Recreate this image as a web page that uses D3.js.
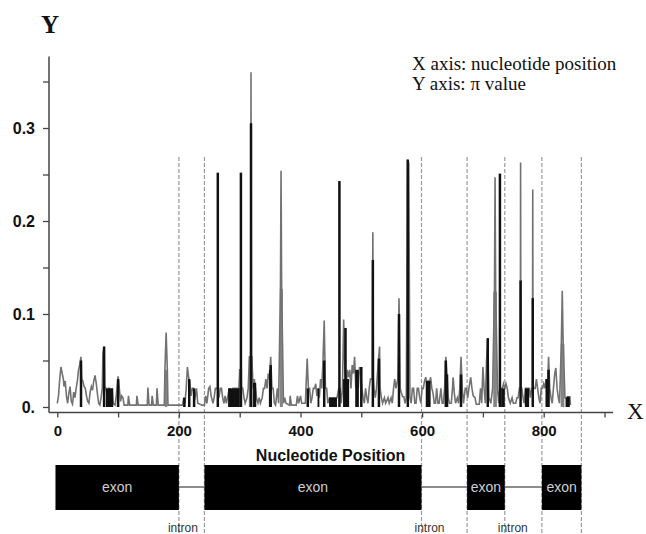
<!DOCTYPE html>
<html><head><meta charset="utf-8">
<script src="https://cdn.jsdelivr.net/npm/d3@7/dist/d3.min.js"></script>
<style>body{margin:0;background:#fff}svg{display:block}</style>
</head><body>
<svg id="c" width="646" height="534"></svg>
<script>
// nucleotide diversity (pi) profile along the gene: [position, pi]
const piProfile = [
[0,0.004],[2,0.012],[4,0.03],[6,0.043],[8,0.036],[10,0.03],[11,0.022],[13,0.028],[15,0.012],[17,0.004],[19,0.015],[21,0.022],[23,0.006],[25,0.003],[27,0.016],[29,0.01],[31,0.02],[33,0.028],[35,0.04],[37,0.046],[39,0.054],[40,0.03],[42,0.028],[44,0.022],[46,0.02],[48,0.012],[50,0.006],[52,0.004],[54,0.016],[56,0.022],[58,0.018],[60,0.028],[62,0.034],[64,0.026],[66,0.014],[68,0.004],[70,0.002],[72,0.01],[74,0.02],[75,0.058],[77,0.065],[78,0.022],[80,0.02],[82,0.012],[84,0.02],[86,0.02],[88,0.012],[90,0.02],[92,0.004],[95,0.002],[97,0.012],[99,0.026],[100,0.033],[102,0.02],[104,0.006],[106,0.012],[108,0.01],[110,0.002],[116,0.002],[117,0.012],[119,0.002],[130,0.002],[131,0.012],[133,0.002],[148,0.002],[149,0.021],[151,0.002],[155,0.002],[156,0.012],[158,0.002],[163,0.002],[164,0.02],[166,0.002],[176,0.002],[177,0.04],[179,0.08],[181,0.04],[182,0.002],
[206,0.002],[208,0.01],[210,0.004],[212,0.02],[214,0.043],[216,0.032],[218,0.026],[220,0.012],[222,0.02],[224,0.02],[226,0.008],[229,0.02],[231,0.004],[238,0.002],[242,0.002],[244,0.012],[246,0.004],[249,0.02],[251,0.022],[253,0.012],[256,0.004],[258,0.01],[260,0.02],[262,0.02],[264,0.02],[266,0.01],[268,0.02],[270,0.02],[272,0.01],[274,0.004],[276,0.012],[278,0.004],[280,0.01],[283,0.02],[285,0.008],[287,0.004],[289,0.02],[296,0.02],[298,0.01],[300,0.04],[302,0.04],[303,0.02],[305,0.02],[307,0.01],[309,0.004],[312,0.01],[314,0.02],[316,0.054],[318,0.054],[318.6,0.36],[319.4,0.054],[320,0.054],[322,0.02],[324,0.03],[326,0.02],[328,0.008],[330,0.004],[332,0.01],[334,0.004],[337,0.01],[339,0.02],[341,0.02],[343,0.03],[345,0.02],[347,0.036],[349,0.03],[351,0.054],[353,0.02],[355,0.02],[357,0.004],[359,0.002],[362,0.02],[364,0.004],[367,0.127],[368,0.254],[369,0.127],[372,0.004],[374,0.01],[376,0.004],[382,0.002],[383,0.012],[385,0.002],[393,0.002],[395,0.012],[397,0.004],[400,0.012],[402,0.004],
[408,0.004],[409,0.02],[411,0.052],[413,0.02],[415,0.02],[417,0.004],[419,0.01],[421,0.02],[423,0.02],[425,0.025],[427,0.012],[429,0.02],[431,0.01],[433,0.03],[435,0.02],[437,0.05],[439,0.093],[441,0.02],[443,0.02],[445,0.004],[448,0.01],[460,0.01],[463,0.02],[465,0.02],[467,0.004],[469,0.02],[471,0.094],[473,0.04],[475,0.02],[477,0.04],[479,0.032],[481,0.04],[483,0.02],[485,0.045],[487,0.036],[489,0.054],[491,0.02],[493,0.036],[495,0.02],[497,0.043],[499,0.036],[501,0.02],[503,0.01],[505,0.004],[507,0.02],[509,0.01],[511,0.004],[513,0.02],[515,0.03],[518,0.03],[519,0.188],[520,0.03],[521,0.02],[523,0.01],[525,0.02],[527,0.04],[530,0.065],[531,0.02],[533,0.01],[535,0.004],[538,0.01],[540,0.004],[544,0.01],[546,0.004],[549,0.01],[551,0.004],
[553,0.02],[555,0.03],[557,0.02],[560,0.03],[562,0.117],[564,0.02],[566,0.015],[568,0.011],[570,0.011],[572,0.004],[574,0.01],[576,0.266],[578,0.262],[580,0.01],[582,0.004],[584,0.02],[586,0.02],[588,0.004],[590,0.004],[592,0.02],[594,0.02],[596,0.01],[598,0.004],[600,0.02],[602,0.02],[604,0.028],[606,0.032],[608,0.024],[610,0.028],[612,0.026],[614,0.032],[616,0.02],[618,0.015],[620,0.004],[622,0.004],[624,0.02],[626,0.004],[628,0.004],[631,0.02],[633,0.004],[635,0.004],[637,0.02],[639,0.054],[641,0.035],[643,0.01],[645,0.004],[648,0.004],[650,0.02],[651,0.032],[653,0.015],[655,0.004],[658,0.01],[660,0.004],[662,0.02],[664,0.054],[666,0.02],[668,0.004],[671,0.02],[673,0.02],[675,0.01],[677,0.02],[680,0.032],[682,0.02],[684,0.012],[687,0.01],[689,0.003],[694,0.003],[696,0.02],[698,0.004],[700,0.043],[702,0.02],[704,0.004],[706,0.05],[708,0.074],[710,0.01],[713,0.004],[716,0.02],[719,0.124],[720,0.247],[721,0.124],[724,0.02],[726,0.004],[728,0.02],[730,0.02],[732,0.02],[734,0.025],[736,0.02],[738,0.025],[740,0.02],[742,0.01],[745,0.004],[748,0.01],[750,0.004],[754,0.004],[756,0.01],[758,0.01],[760,0.02],[761.5,0.02],[762,0.263],[762.5,0.02],[764,0.02],[766,0.01],[768,0.004],[770,0.02],[772,0.02],[774,0.02],[776,0.02],[778,0.01],[780,0.02],[781.5,0.02],[782,0.234],[782.5,0.02],[784,0.02],[786,0.02],[788,0.03],[790,0.02],[792,0.01],[794,0.004],[796,0.02],[798,0.02],[800,0.025],[802,0.02],[804,0.03],[806,0.02],[808,0.054],[810,0.02],[812,0.01],[814,0.004],[816,0.02],[818,0.035],[820,0.042],[822,0.02],[824,0.01],[826,0.004],[829,0.068],[830.5,0.125],[832,0.068],[835,0.01],[837,0.01],[839,0.011],[843,0.011],[844,0.002]
];
// dark single-site spikes: [position, pi]
const blackSpikes = [[39,0.05],[77,0.065],[100,0.03],[209,0.01],[217,0.03],[225,0.02],[264,0.252],[284,0.02],[302,0.252],[318.6,0.305],[325,0.025],[351,0.045],[412,0.02],[439,0.05],[464,0.243],[474,0.085],[500,0.043],[519,0.158],[529,0.052],[562,0.1],[576.5,0.266],[639,0.05],[641,0.035],[664,0.035],[708,0.074],[728,0.251],[762,0.136],[782,0.117],[805,0.03],[808,0.04],[838,0.01]];
// dark blocks: [start, end, pi]
const blackBlocks = [[80,92,0.02],[281,300,0.02],[322,327,0.026],[348,352,0.04],[428,431,0.02],[447,460,0.01],[470,480,0.03],[490,496,0.04],[606,614,0.028],[730,736,0.02],[769,776,0.02],[838,843,0.011]];
// gray wide bars: [start, end, pi]
const grayBlocks = [[177,181,0.04],[299,304,0.04],[315,321,0.054],[366,371,0.127],[717,723,0.124],[828,834,0.068]];
// gene structure
const exons = [[-3,200],[242,599],[674,736],[797,862]];
const introns = [[200,242],[599,674],[736,797]];
const boundaries = [200,242,599,674,736,797,862];
const xTicks = [0,100,200,300,400,500,600,700,800,900];
const xTickLabels = {0:"0",200:"200",400:"400",600:"600",800:"800"};
const yTicks = [0,0.05,0.1,0.15,0.2,0.25,0.3,0.35];
const yTickLabels = {0:"0.",0.1:"0.1",0.2:"0.2",0.3:"0.3"};

const svg = d3.select("#c");
const sans = "'Liberation Sans', Arial, sans-serif";
const serif = "'Liberation Serif', 'Times New Roman', serif";
const x = d3.scaleLinear().domain([0,900]).range([57.3,604.5]);
const y = d3.scaleLinear().domain([0,0.35]).range([407,81.5]);
const axisX = 49, axisY = 412.5;

// boundary dashed lines
svg.append("g").selectAll("line").data(boundaries).join("line")
  .attr("x1",d=>x(d)).attr("x2",d=>x(d)).attr("y1",157).attr("y2",534)
  .attr("stroke","#9a9a9a").attr("stroke-width",1.2).attr("stroke-dasharray","4,2");

// gray wide bars
svg.append("g").selectAll("rect").data(grayBlocks).join("rect")
  .attr("x",d=>x(d[0])).attr("width",d=>x(d[1])-x(d[0]))
  .attr("y",d=>y(d[2])).attr("height",d=>y(0)-y(d[2])).attr("fill","#858585");

// profile line
svg.append("path").datum(piProfile)
  .attr("d",d3.line().x(d=>x(d[0])).y(d=>y(d[1])))
  .attr("fill","none").attr("stroke","#727272").attr("stroke-width",1.6).attr("stroke-linejoin","miter");

// black blocks
svg.append("g").selectAll("rect").data(blackBlocks).join("rect")
  .attr("x",d=>x(d[0])).attr("width",d=>x(d[1])-x(d[0]))
  .attr("y",d=>y(d[2])).attr("height",d=>y(0)-y(d[2])).attr("fill","#111");
// black spikes
svg.append("g").selectAll("line").data(blackSpikes).join("line")
  .attr("x1",d=>x(d[0])).attr("x2",d=>x(d[0])).attr("y1",y(0)).attr("y2",d=>y(d[1]))
  .attr("stroke","#111").attr("stroke-width",2.5);

// axes
const gx = svg.append("g").attr("transform",`translate(0,${axisY})`)
  .call(d3.axisBottom(x).tickValues(xTicks).tickSize(5).tickPadding(7.5).tickFormat(d=>xTickLabels[d]||""));
gx.select(".domain").remove();
gx.append("line").attr("x1",axisX).attr("x2",x(914)).attr("stroke","#444").attr("stroke-width",1.5);
gx.selectAll(".tick line").attr("stroke","#444").attr("stroke-width",1.3);
gx.selectAll(".tick text").attr("font-family",sans).attr("font-weight","bold").attr("font-size",15).attr("fill","#111");

const gy = svg.append("g").attr("transform",`translate(${axisX},0)`)
  .call(d3.axisLeft(y).tickValues(yTicks).tickSize(6).tickPadding(8).tickFormat(d=>yTickLabels[d]||""));
gy.select(".domain").remove();
gy.append("line").attr("y1",y(0.377)).attr("y2",axisY).attr("stroke","#444").attr("stroke-width",1.5);
gy.selectAll(".tick line").attr("stroke","#444").attr("stroke-width",1.3);
gy.selectAll(".tick text").attr("font-family",sans).attr("font-weight","bold").attr("font-size",16).attr("fill","#111");

// axis letters
svg.append("text").attr("x",50).attr("y",33).attr("text-anchor","middle")
  .attr("font-family",serif).attr("font-weight","bold").attr("font-size",25).attr("fill","#111").text("Y");
svg.append("text").attr("x",627).attr("y",419)
  .attr("font-family",serif).attr("font-size",23).attr("fill","#111").text("X");

// annotation
svg.append("text").attr("x",412).attr("y",70).attr("font-family",serif).attr("font-size",19).attr("fill","#111").text("X axis: nucleotide position");
svg.append("text").attr("x",412).attr("y",90).attr("font-family",serif).attr("font-size",19).attr("fill","#111").text("Y axis: π value");

// x title
svg.append("text").attr("x",330.5).attr("y",461).attr("text-anchor","middle")
  .attr("font-family",sans).attr("font-weight","bold").attr("font-size",16).attr("fill","#111").text("Nucleotide Position");

// gene model
svg.append("g").selectAll("line").data(introns).join("line")
  .attr("x1",d=>x(d[0])).attr("x2",d=>x(d[1])).attr("y1",487).attr("y2",487)
  .attr("stroke","#666").attr("stroke-width",1.5);
svg.append("g").selectAll("rect").data(exons).join("rect")
  .attr("x",d=>x(d[0])).attr("width",d=>x(d[1])-x(d[0])).attr("y",465).attr("height",45).attr("fill","#000");
svg.append("g").selectAll("text").data(exons).join("text")
  .attr("x",d=>(x(d[0])+x(d[1]))/2).attr("y",492).attr("text-anchor","middle")
  .attr("font-family",sans).attr("font-size",14).attr("fill","#cfcfcf").text("exon");
svg.append("g").selectAll("text").data(introns).join("text")
  .attr("x",(d,i)=>x(d[0])+(i===0?4:8)).attr("y",532).attr("text-anchor","middle")
  .attr("font-family",sans).attr("font-size",12).attr("fill","#333").text("intron");
</script>
</body></html>
